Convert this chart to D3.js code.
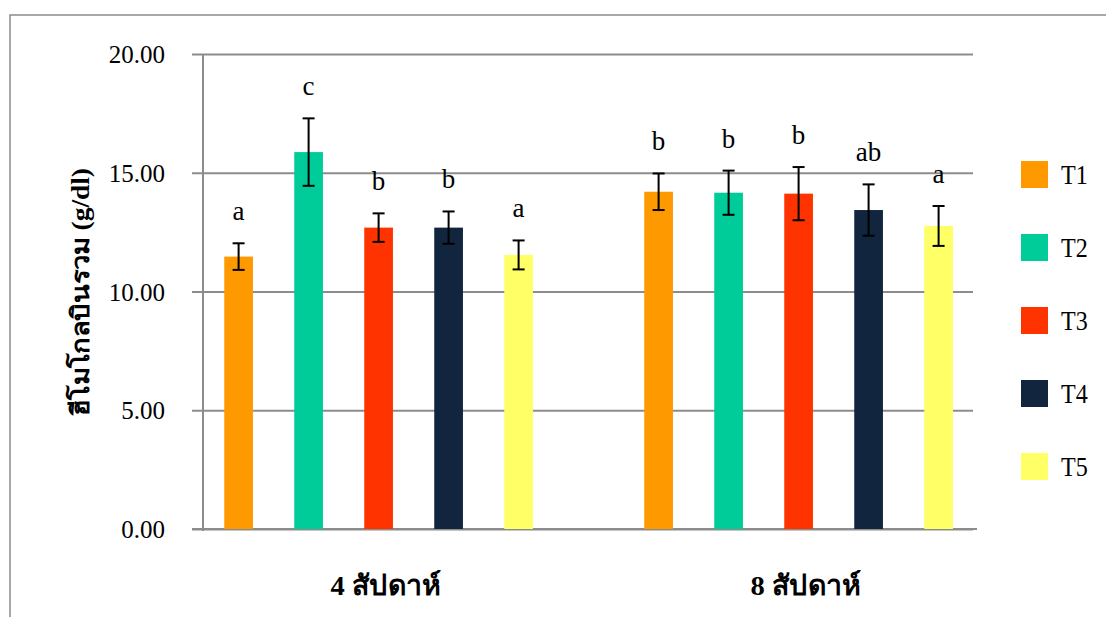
<!DOCTYPE html>
<html><head><meta charset="utf-8">
<script src="https://cdn.jsdelivr.net/npm/d3@7"></script>
<style>body{margin:0;background:#fff} svg{display:block}</style>
</head><body>
<svg id="chart" width="1106" height="617"></svg>
<script>
// Total hemoglobin (g/dl) by treatment at 4 and 8 weeks
const periods = ["4 สัปดาห์", "8 สัปดาห์"];
const treatments = ["T1", "T2", "T3", "T4", "T5"];
const colors = ["#FF9900", "#00CC99", "#FF3300", "#11253F", "#FFFF66"];
const means4 = [11.47, 15.87, 12.69, 12.69, 11.54];
const means8 = [14.20, 14.16, 14.12, 13.43, 12.76];
const err4 = [0.56, 1.42, 0.60, 0.68, 0.61];
const err8 = [0.77, 0.93, 1.12, 1.08, 0.84];
const letters4 = ["a", "c", "b", "b", "a"];
const letters8 = ["b", "b", "b", "ab", "a"];
const yTicks = [0, 5, 10, 15, 20];
const yTitle = "ฮีโมโกลบินรวม (g/dl)";

const rows = [
  {period: periods[0], means: means4, errs: err4, letters: letters4},
  {period: periods[1], means: means8, errs: err8, letters: letters8}
].flatMap(g => treatments.map((t, i) => ({
  period: g.period, t, mean: g.means[i], err: g.errs[i], letter: g.letters[i], color: colors[i]
})));

const FONT = '"Liberation Serif"';
const gridColor = "#8c8c8c";
const svg = d3.select("#chart");

// outer frame
svg.append("path")
  .attr("d", "M10,617V15H1106")
  .attr("fill", "none").attr("stroke", gridColor).attr("stroke-width", 1.5);

const y = d3.scaleLinear().domain([0, 20]).range([529, 54]);
const x0 = d3.scaleBand().domain(periods).range([168.6, 1008.6]);
const x1 = d3.scaleBand().domain(treatments).range([-175, 175])
  .paddingInner(0.59).paddingOuter(0.295);

// y axis with gridlines
const axisLeft = d3.axisLeft(y).tickValues(yTicks)
  .tickFormat(d3.format(".2f"))
  .tickSizeInner(-(973 - 192)).tickSizeOuter(0).tickPadding(27);
const ga = svg.append("g").attr("transform", "translate(192,0)").call(axisLeft);
ga.attr("font-family", null).attr("font-size", null);
ga.select(".domain").remove();
ga.selectAll(".tick line").attr("stroke", gridColor).attr("stroke-width", 2);
ga.selectAll(".tick text")
  .style("font-family", FONT).style("font-size", "25px").attr("fill", "#000")
  .attr("dy", "0.34em");

// zero baseline and vertical axis line
svg.append("line").attr("x1", 192).attr("x2", 977).attr("y1", y(0)).attr("y2", y(0))
  .attr("stroke", gridColor).attr("stroke-width", 2);
svg.append("line").attr("x1", 203).attr("x2", 203).attr("y1", y(20)).attr("y2", y(0) + 2)
  .attr("stroke", gridColor).attr("stroke-width", 2);

// bars
const bx = d => x0(d.period) + x0.bandwidth() / 2 + x1(d.t);
const cx = d => bx(d) + x1.bandwidth() / 2;

svg.append("g").selectAll("rect").data(rows).join("rect")
  .attr("x", bx).attr("width", x1.bandwidth())
  .attr("y", d => y(d.mean)).attr("height", d => y(0) - y(d.mean))
  .attr("fill", d => d.color);

// error bars
const eb = svg.append("g").attr("stroke", "#000").attr("stroke-width", 2);
eb.selectAll("line.v").data(rows).join("line").attr("class", "v")
  .attr("x1", cx).attr("x2", cx)
  .attr("y1", d => y(d.mean + d.err)).attr("y2", d => y(d.mean - d.err));
eb.selectAll("line.top").data(rows).join("line").attr("class", "top")
  .attr("x1", d => cx(d) - 6).attr("x2", d => cx(d) + 6)
  .attr("y1", d => y(d.mean + d.err)).attr("y2", d => y(d.mean + d.err));
eb.selectAll("line.bot").data(rows).join("line").attr("class", "bot")
  .attr("x1", d => cx(d) - 6).attr("x2", d => cx(d) + 6)
  .attr("y1", d => y(d.mean - d.err)).attr("y2", d => y(d.mean - d.err));

// significance letters
svg.append("g").selectAll("text").data(rows).join("text")
  .attr("x", cx).attr("y", d => y(d.mean + d.err) - 23)
  .attr("text-anchor", "middle")
  .style("font-family", FONT).style("font-size", "27px").attr("fill", "#000")
  .text(d => d.letter);

// category labels
svg.append("g").selectAll("text").data(periods).join("text")
  .attr("x", d => x0(d) + x0.bandwidth() / 2 + 7).attr("y", 595)
  .attr("text-anchor", "middle")
  .style("font-family", FONT).style("font-weight", "bold").style("font-size", "28px")
  .attr("textLength", 110).attr("lengthAdjust", "spacingAndGlyphs")
  .text(d => d);

// y title
svg.append("text")
  .attr("transform", "translate(89,292) rotate(-90)")
  .attr("text-anchor", "middle")
  .style("font-family", FONT).style("font-weight", "bold").style("font-size", "25px")
  .attr("textLength", 248).attr("lengthAdjust", "spacingAndGlyphs")
  .text(yTitle);

// legend
const lg = svg.append("g").selectAll("g").data(treatments).join("g")
  .attr("transform", (d, i) => `translate(1021,${161 + i * 73})`);
lg.append("rect").attr("width", 27).attr("height", 27).attr("fill", (d, i) => colors[i]);
lg.append("text")
  .attr("transform", "translate(40,23) scale(0.86,1)")
  .style("font-family", FONT).style("font-size", "28px").attr("fill", "#000")
  .text(d => d);
</script>
</body></html>
